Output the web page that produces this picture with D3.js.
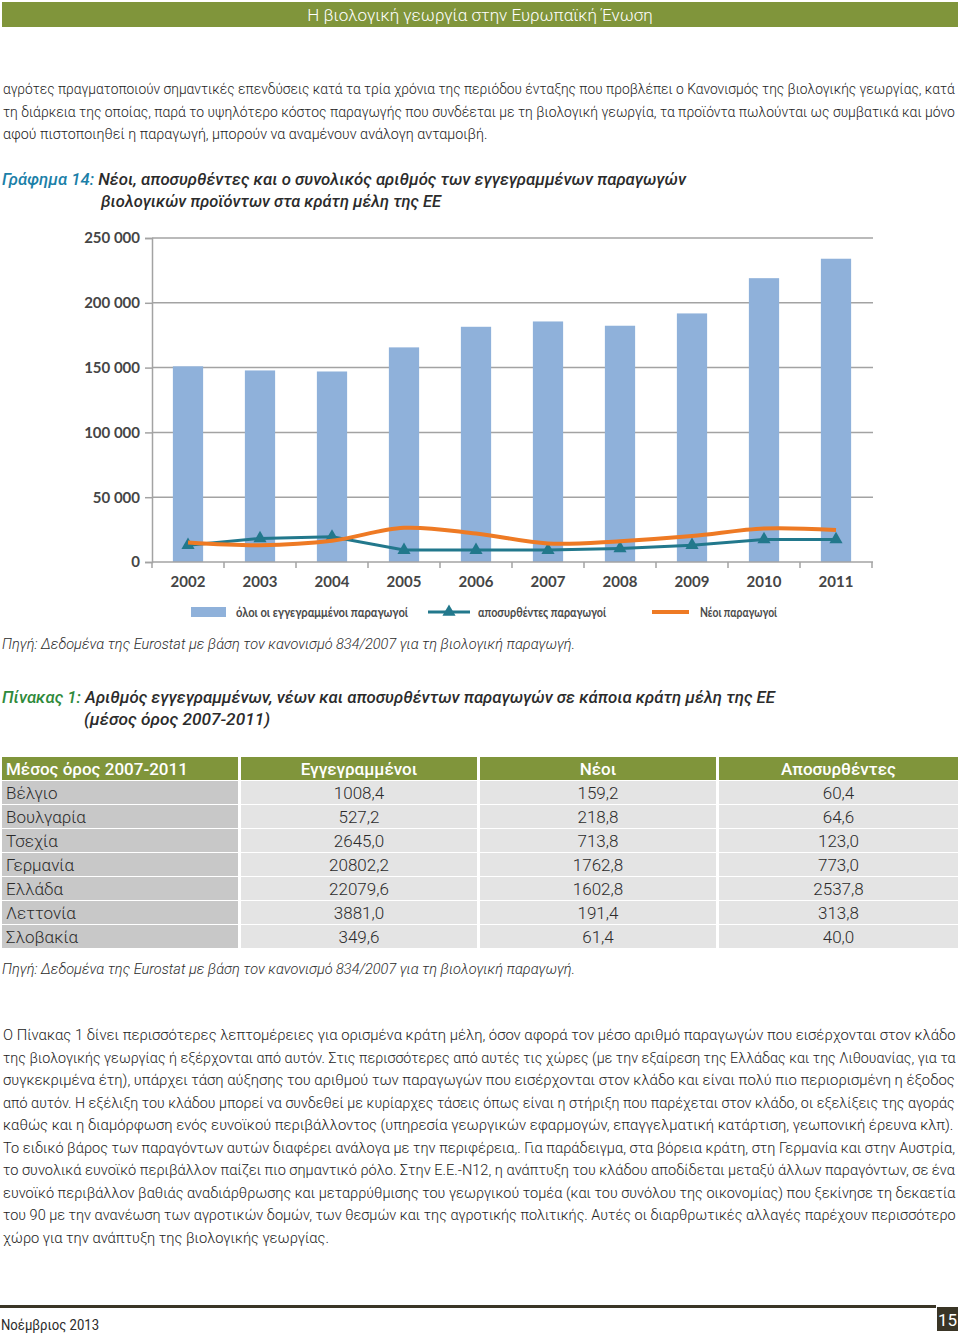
<!DOCTYPE html>
<html>
<head>
<meta charset="utf-8">
<script src="https://cdn.jsdelivr.net/npm/d3@7"></script>
<style>
  html, body { margin: 0; padding: 0; background: #fff; }
  svg { display: block; }
</style>
</head>
<body>
<svg id="page" width="960" height="1335"></svg>
<script>
// ---------------- DATA ----------------
const years = ["2002","2003","2004","2005","2006","2007","2008","2009","2010","2011"];
const allRegistered = [151000, 147800, 147000, 165600, 181500, 185600, 182300, 191800, 219000, 234000];
const withdrawn     = [13000, 18200, 19500, 9200, 9200, 9200, 10500, 13000, 17400, 17400];
const newProducers  = [15100, 13000, 16400, 26400, 22000, 14300, 16100, 20000, 25900, 24600];
const yTicks = [0, 50000, 100000, 150000, 200000, 250000];
const legendLabels = ["όλοι οι εγγεγραμμένοι παραγωγοί", "αποσυρθέντες παραγωγοί", "Νέοι παραγωγοί"];

const tableHeader = ["Μέσος όρος 2007-2011", "Εγγεγραμμένοι", "Νέοι", "Αποσυρθέντες"];
const countries  = ["Βέλγιο", "Βουλγαρία", "Τσεχία", "Γερμανία", "Ελλάδα", "Λεττονία", "Σλοβακία"];
const registered = ["1008,4", "527,2", "2645,0", "20802,2", "22079,6", "3881,0", "349,6"];
const newAvg     = ["159,2", "218,8", "713,8", "1762,8", "1602,8", "191,4", "61,4"];
const withdrawnAvg = ["60,4", "64,6", "123,0", "773,0", "2537,8", "313,8", "40,0"];

const para1 = [
  ["αγρότες πραγματοποιούν σημαντικές επενδύσεις κατά τα τρία χρόνια της περιόδου ένταξης που προβλέπει ο Κανονισμός της βιολογικής γεωργίας, κατά", 953],
  ["τη διάρκεια της οποίας, παρά το υψηλότερο κόστος παραγωγής που συνδέεται με τη βιολογική γεωργία, τα προϊόντα πωλούνται ως συμβατικά και μόνο", 953],
  ["αφού πιστοποιηθεί η παραγωγή, μπορούν να αναμένουν ανάλογη ανταμοιβή.", 485]
];
const para2 = [
  ["Ο Πίνακας 1 δίνει περισσότερες λεπτομέρειες για ορισμένα κράτη μέλη, όσον αφορά τον μέσο αριθμό παραγωγών που εισέρχονται στον κλάδο", 953],
  ["της βιολογικής γεωργίας ή εξέρχονται από αυτόν. Στις περισσότερες από αυτές τις χώρες (με την εξαίρεση της Ελλάδας και της Λιθουανίας, για τα", 953],
  ["συγκεκριμένα έτη), υπάρχει τάση αύξησης του αριθμού των παραγωγών που εισέρχονται στον κλάδο και είναι πολύ πιο περιορισμένη η έξοδος", 953],
  ["από αυτόν. Η εξέλιξη του κλάδου μπορεί να συνδεθεί με κυρίαρχες τάσεις όπως είναι η στήριξη που παρέχεται στον κλάδο, οι εξελίξεις της αγοράς", 953],
  ["καθώς και η διαμόρφωση ενός ευνοϊκού περιβάλλοντος (υπηρεσία γεωργικών εφαρμογών, επαγγελματική κατάρτιση, γεωπονική έρευνα κλπ).", 951],
  ["Το ειδικό βάρος των παραγόντων αυτών διαφέρει ανάλογα με την περιφέρεια,. Για παράδειγμα, στα βόρεια κράτη, στη Γερμανία και στην Αυστρία,", 953],
  ["το συνολικά ευνοϊκό περιβάλλον παίζει πιο σημαντικό ρόλο. Στην Ε.Ε.-Ν12, η ανάπτυξη του κλάδου αποδίδεται μεταξύ άλλων παραγόντων, σε ένα", 953],
  ["ευνοϊκό περιβάλλον βαθιάς αναδιάρθρωσης και μεταρρύθμισης του γεωργικού τομέα (και του συνόλου της οικονομίας) που ξεκίνησε τη δεκαετία", 953],
  ["του 90 με την ανανέωση των αγροτικών δομών, των θεσμών και της αγροτικής πολιτικής. Αυτές οι διαρθρωτικές αλλαγές παρέχουν περισσότερο", 953],
  ["χώρο για την ανάπτυξη της βιολογικής γεωργίας.", 326]
];

// ---------------- STYLE ----------------
const OLIVE = "#80953b";
const DARK = "#2b2b2b";
const BODY_FONT = "Roboto, 'Noto Sans', sans-serif";
const CHART_FONT = "Lato, 'Open Sans', sans-serif";
const BAR = "#8fb1da";
const TEAL = "#22788c";
const ORANGE = "#ee7a24";

const svg = d3.select("#page");

// Header bar
svg.append("rect").attr("x", 2).attr("y", 2).attr("width", 956).attr("height", 25).attr("fill", OLIVE);
svg.append("text").attr("x", 480).attr("y", 21).attr("text-anchor", "middle")
  .attr("fill", "#fff").attr("font-family", BODY_FONT).attr("font-weight", 300)
  .attr("font-size", 17).text("Η βιολογική γεωργία στην Ευρωπαϊκή Ένωση");

// Paragraph lines: rendered at natural width, then horizontally scaled to the justified width
function paragraph(lines, startY, step) {
  lines.forEach(([t, w], i) => {
    const el = svg.append("text").attr("x", 0).attr("y", 0)
      .attr("font-family", BODY_FONT).attr("font-weight", 300).attr("font-size", 15.5)
      .attr("fill", "#222").text(t);
    const natural = el.node().getComputedTextLength();
    const sx = w / natural;
    el.attr("transform", `translate(3,${startY + i * step}) scale(${sx},1)`);
  });
}
paragraph(para1, 94, 22.6);
paragraph(para2, 1040, 22.5);

// Title-like lines, fitted via textLength
function titleLine(x, y, parts, width, size) {
  const t = svg.append("text").attr("x", x).attr("y", y)
    .attr("font-family", BODY_FONT).attr("font-style", "italic").attr("font-weight", 500)
    .attr("font-size", size).attr("textLength", width).attr("lengthAdjust", "spacingAndGlyphs");
  parts.forEach(([s, c]) => t.append("tspan").attr("fill", c).text(s));
}
titleLine(2, 185, [["Γράφημα 14: ", "#1b7fa8"], ["Νέοι, αποσυρθέντες και ο συνολικός αριθμός των εγγεγραμμένων παραγωγών", DARK]], 684, 17);
titleLine(101, 207, [["βιολογικών προϊόντων στα κράτη μέλη της ΕΕ", DARK]], 340, 17);

// ---------------- CHART ----------------
const x = d3.scaleBand().domain(years).range([152, 872]).paddingInner(0.58).paddingOuter(0.29);
const y = d3.scaleLinear().domain([0, 250000]).range([562, 238]);
const chart = svg.append("g");

// gridlines
chart.append("g").selectAll("line").data(yTicks.slice(1)).join("line")
  .attr("x1", 152).attr("x2", 873).attr("y1", d => y(d)).attr("y2", d => y(d))
  .attr("stroke", "#a3a3a3").attr("stroke-width", 1.5);

// y axis
const yAxis = d3.axisLeft(y).tickValues(yTicks).tickSize(7).tickPadding(5)
  .tickFormat(d => d3.format(",")(d).replace(/,/g, " "));
chart.append("g").attr("transform", "translate(152,0)").call(yAxis)
  .call(g => g.select(".domain").attr("stroke", "#a3a3a3").attr("stroke-width", 1.5))
  .call(g => g.selectAll(".tick line").attr("stroke", "#a3a3a3").attr("stroke-width", 1.5))
  .call(g => g.selectAll("text").attr("font-family", CHART_FONT).attr("font-weight", 700)
    .attr("font-size", 15).attr("fill", "#454545"));

// bars
chart.append("g").selectAll("rect").data(years).join("rect")
  .attr("x", d => x(d)).attr("width", x.bandwidth())
  .attr("y", (d, i) => y(allRegistered[i]))
  .attr("height", (d, i) => y(0) - y(allRegistered[i]))
  .attr("fill", BAR);

// x axis
const xAxisG = chart.append("g").attr("transform", "translate(0,562)");
xAxisG.append("line").attr("x1", 152).attr("x2", 873).attr("y1", 0).attr("y2", 0)
  .attr("stroke", "#a3a3a3").attr("stroke-width", 1.5);
xAxisG.selectAll("line.tk").data(years.concat(["end"])).join("line").attr("class", "tk")
  .attr("x1", (d, i) => 152 + i * (720 / years.length)).attr("x2", (d, i) => 152 + i * (720 / years.length))
  .attr("y1", 0).attr("y2", 6).attr("stroke", "#a3a3a3").attr("stroke-width", 1.5);
xAxisG.selectAll("text").data(years).join("text")
  .attr("x", d => x(d) + x.bandwidth() / 2).attr("y", 25).attr("text-anchor", "middle")
  .attr("font-family", CHART_FONT).attr("font-weight", 700).attr("font-size", 15).attr("fill", "#454545")
  .text(d => d);

// lines
const cx = d => x(d) + x.bandwidth() / 2;
const orangeLine = d3.line().x((d, i) => cx(years[i])).y(d => y(d)).curve(d3.curveCatmullRom.alpha(0.5));
const tealLine = d3.line().x((d, i) => cx(years[i])).y(d => y(d));
chart.append("path").datum(withdrawn).attr("d", tealLine).attr("fill", "none")
  .attr("stroke", TEAL).attr("stroke-width", 3);
const tri = d3.symbol().type(d3.symbolTriangle).size(75);
chart.append("g").selectAll("path").data(withdrawn).join("path")
  .attr("transform", (d, i) => `translate(${cx(years[i])},${y(d)})`)
  .attr("d", tri).attr("fill", TEAL);
chart.append("path").datum(newProducers).attr("d", orangeLine).attr("fill", "none")
  .attr("stroke", ORANGE).attr("stroke-width", 4).attr("stroke-linejoin", "round");

// legend
const lg = chart.append("g");
lg.append("rect").attr("x", 191).attr("y", 607).attr("width", 35).attr("height", 10).attr("fill", BAR);
lg.append("line").attr("x1", 428).attr("x2", 470).attr("y1", 612).attr("y2", 612).attr("stroke", TEAL).attr("stroke-width", 3);
lg.append("path").attr("transform", "translate(449,612)").attr("d", tri).attr("fill", TEAL);
lg.append("line").attr("x1", 652).attr("x2", 689).attr("y1", 612).attr("y2", 612).attr("stroke", ORANGE).attr("stroke-width", 4);
const legendPos = [[236, 172], [478, 128], [700, 77]];
legendLabels.forEach((t, i) => {
  lg.append("text").attr("x", legendPos[i][0]).attr("y", 617)
    .attr("font-family", CHART_FONT).attr("font-weight", 700).attr("font-size", 12.5).attr("fill", "#4a4a4a")
    .attr("textLength", legendPos[i][1]).attr("lengthAdjust", "spacingAndGlyphs").text(t);
});

// sources
function source(yy) {
  svg.append("text").attr("x", 2).attr("y", yy).attr("font-family", BODY_FONT)
    .attr("font-style", "italic").attr("font-weight", 300).attr("font-size", 15).attr("fill", DARK)
    .attr("textLength", 573).attr("lengthAdjust", "spacingAndGlyphs")
    .text("Πηγή: Δεδομένα της Eurostat με βάση τον κανονισμό 834/2007 για τη βιολογική παραγωγή.");
}
source(649);
source(974);

// table title
titleLine(2, 703, [["Πίνακας 1: ", "#2f8a3b"], ["Αριθμός εγγεγραμμένων, νέων και αποσυρθέντων παραγωγών σε κάποια κράτη μέλη της ΕΕ", DARK]], 773, 17);
titleLine(84, 725, [["(μέσος όρος 2007-2011)", DARK]], 186, 17);

// ---------------- TABLE ----------------
const colX = [2, 241, 480, 719];
const colW = [236, 236, 236, 239];
const tbl = svg.append("g");
tableHeader.forEach((h, j) => {
  tbl.append("rect").attr("x", colX[j]).attr("y", 757).attr("width", colW[j]).attr("height", 23).attr("fill", OLIVE);
  tbl.append("text").attr("x", j === 0 ? colX[j] + 4 : colX[j] + colW[j] / 2).attr("y", 775)
    .attr("text-anchor", j === 0 ? "start" : "middle")
    .attr("font-family", BODY_FONT).attr("font-weight", 500).attr("font-size", 17).attr("fill", "#fff").text(h);
});
const cols = [countries, registered, newAvg, withdrawnAvg];
countries.forEach((c, i) => {
  const top = 781 + i * 24;
  cols.forEach((arr, j) => {
    tbl.append("rect").attr("x", colX[j]).attr("y", top).attr("width", colW[j]).attr("height", 23)
      .attr("fill", j === 0 ? "#c8c8c8" : "#e4e4e4");
    tbl.append("text").attr("x", j === 0 ? colX[j] + 4 : colX[j] + colW[j] / 2).attr("y", top + 18)
      .attr("text-anchor", j === 0 ? "start" : "middle")
      .attr("font-family", BODY_FONT).attr("font-weight", 300).attr("font-size", 17).attr("fill", DARK).text(arr[i]);
  });
});

// ---------------- FOOTER ----------------
svg.append("rect").attr("x", 0).attr("y", 1305).attr("width", 936).attr("height", 3).attr("fill", "#3a3526");
svg.append("rect").attr("x", 937).attr("y", 1307).attr("width", 21).attr("height", 24).attr("fill", "#3a3526");
svg.append("text").attr("x", 947.5).attr("y", 1326).attr("text-anchor", "middle")
  .attr("font-family", BODY_FONT).attr("font-size", 17).attr("fill", "#fff").text("15");
svg.append("text").attr("x", 1).attr("y", 1330)
  .attr("font-family", BODY_FONT).attr("font-weight", 400).attr("font-size", 14).attr("fill", DARK)
  .attr("textLength", 98).attr("lengthAdjust", "spacingAndGlyphs").text("Νοέμβριος 2013");
</script>
</body>
</html>
